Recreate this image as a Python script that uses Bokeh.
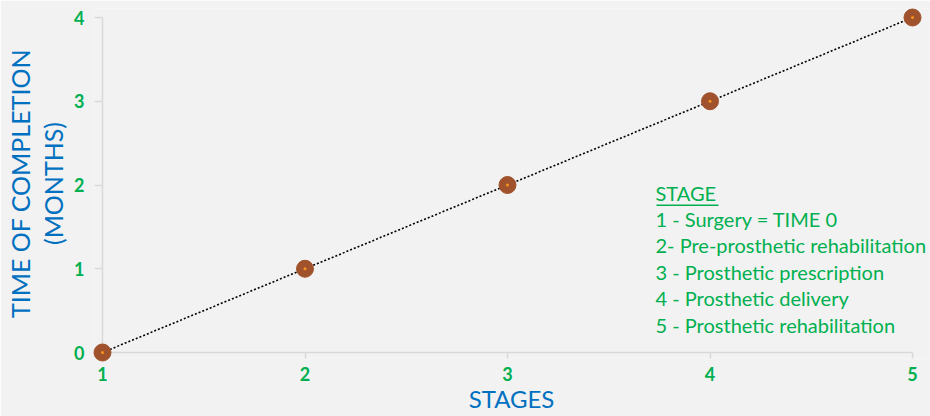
from bokeh.plotting import figure
from bokeh.models import Range1d, Label, BoxAnnotation, FixedTicker
from bokeh.embed import file_html
from bokeh.resources import INLINE

# ---- data ----
stages = [1, 2, 3, 4, 5]
months = [0, 1, 2, 3, 4]
x_ticks = [1, 2, 3, 4, 5]
y_ticks = [0, 1, 2, 3, 4]
x_title = "STAGES"
y_title = "TIME OF COMPLETION\n(MONTHS)"
legend_title = "STAGE"
legend_lines = [
    "1 - Surgery = TIME 0",
    "2- Pre-prosthetic rehabilitation",
    "3 - Prosthetic prescription",
    "4 - Prosthetic delivery",
    "5 - Prosthetic rehabilitation",
]

BG = "#F2F2F2"
GREEN = "#00B050"
BLUE = "#0070C0"
AXIS = "#D9D9D9"
FONT = "Lato"

# frame geometry (pixels)
FL, FR, FT, FB = 94, 928, 8, 358
W, H = 930, 416
px_x = 202.5   # pixels per stage
px_y = 83.75   # pixels per month
x0 = stages[0] - (102 - FL) / px_x
x1 = x0 + (FR - FL) / px_x
y0 = months[0] - (FB - 352) / px_y
y1 = y0 + (FB - FT) / px_y

p = figure(width=W, height=H, output_backend="svg", toolbar_location=None,
           x_range=Range1d(x0, x1), y_range=Range1d(y0, y1),
           min_border_left=FL, min_border_right=W - FR,
           min_border_top=FT, min_border_bottom=H - FB)
p.background_fill_color = BG
p.border_fill_color = BG
p.outline_line_color = None
p.grid.visible = False

p.xaxis.ticker = FixedTicker(ticks=x_ticks)
p.yaxis.ticker = FixedTicker(ticks=y_ticks)

for ax in (p.xaxis, p.yaxis):
    ax.axis_line_color = None
    ax.major_tick_line_color = AXIS
    ax.major_tick_line_width = 1.5
    ax.major_tick_out = 0
    ax.minor_tick_line_color = None
    ax.major_label_text_color = GREEN
    ax.major_label_text_font = FONT
    ax.major_label_text_font_style = "bold"
    ax.major_label_text_font_size = "18px"
    ax.axis_label_text_color = BLUE
    ax.axis_label_text_font = FONT
    ax.axis_label_text_font_style = "normal"
    ax.axis_label_text_font_size = "25px"

p.xaxis.major_tick_in = FB - 352
p.yaxis.major_tick_in = 102 - FL
p.xaxis.axis_label = x_title
p.xaxis.axis_label_text_font_size = "24px"
p.yaxis.axis_label = y_title
p.yaxis.axis_label_text_line_height = 1.1
p.xaxis.major_label_standoff = 8
p.yaxis.major_label_standoff = 10
p.xaxis.axis_label_standoff = 0
p.yaxis.axis_label_standoff = 3

# axis lines drawn at the data origin
p.segment(x0=[stages[0]], y0=[months[0]], x1=[stages[-1]], y1=[months[0]],
          line_color=AXIS, line_width=1.5)
p.segment(x0=[stages[0]], y0=[months[0]], x1=[stages[0]], y1=[months[-1]],
          line_color=AXIS, line_width=1.5)

p.line(stages, months, line_color="black", line_width=1.6, line_dash="2 2")
r1 = p.scatter(stages, months, size=17, fill_color="#A0522D", line_color="#A0522D")
r2 = p.scatter(stages, months, size=3, fill_color="#F7941D", line_color=None)
r1.level = "overlay"
r2.level = "overlay"

# legend text block (screen units are relative to the frame's bottom-left)
lx = 655 - FL
top_center = 192
step = 26.4
p.add_layout(Label(x=lx, y=FB - top_center, x_units="screen", y_units="screen",
                   text=legend_title, text_color=GREEN, text_font=FONT,
                   text_font_size="20px", text_baseline="middle"))
p.add_layout(BoxAnnotation(left=lx + 1, right=lx + 63, bottom=FB - 205.5, top=FB - 204,
                           left_units="screen", right_units="screen",
                           bottom_units="screen", top_units="screen",
                           fill_color=GREEN, fill_alpha=1, line_color=None))
for i, t in enumerate(legend_lines):
    p.add_layout(Label(x=lx, y=FB - top_center - step * (i + 1), x_units="screen",
                       y_units="screen", text=t, text_color=GREEN, text_font=FONT,
                       text_font_size="20px", text_baseline="middle"))

open("out.html", "w").write(file_html(p, INLINE))
